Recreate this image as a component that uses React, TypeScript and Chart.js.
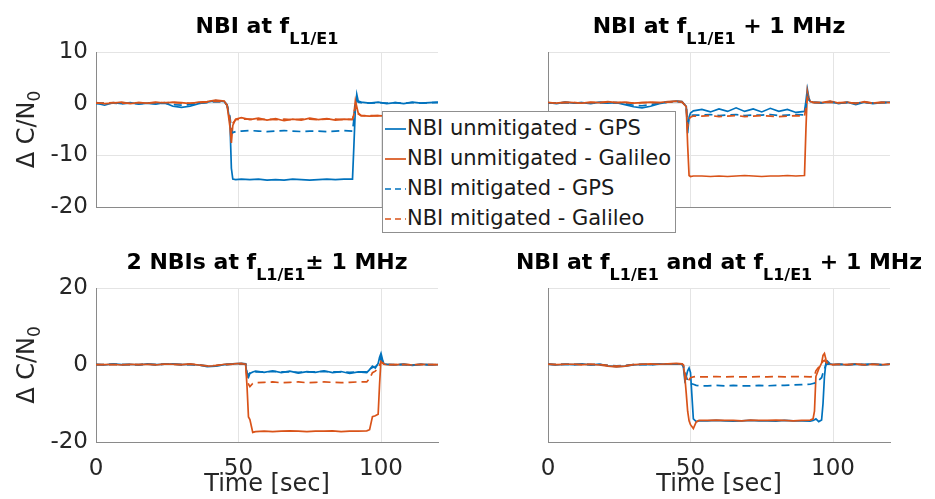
import React, { useEffect, useRef } from "react";
import { Chart, registerables } from "chart.js";
Chart.register(...registerables);

// ---------------- DATA ----------------
const SERIES_LABELS = [
  "NBI unmitigated - GPS",
  "NBI unmitigated - Galileo",
  "NBI mitigated - GPS",
  "NBI mitigated - Galileo",
];
const X_TICKS = [0, 50, 100];
const Y_TICKS_TOP = [-20, -10, 0, 10];
const Y_TICKS_BOTTOM = [-20, 0, 20];
const X_LABEL = "Time [sec]";
const Y_LABEL: [string, boolean][] = [["Δ C/N", false], ["0", true]];

const TITLE_TL: [string, boolean][] = [["NBI at f", false], ["L1/E1", true]];
const TITLE_TR: [string, boolean][] = [["NBI at f", false], ["L1/E1", true], [" + 1 MHz", false]];
const TITLE_BL: [string, boolean][] = [["2 NBIs at f", false], ["L1/E1", true], ["± 1 MHz", false]];
const TITLE_BR: [string, boolean][] = [["NBI at f", false], ["L1/E1", true], [" and at f", false], ["L1/E1", true], [" + 1 MHz", false]];

// Top-left: NBI at f
const tTL = [0,3,6,9,12,15,18,21,24,27,30,33,36,39,42,45, 46,47,47.5,48,49, 51,54,57,60,63,66,69,72,75,78,81,84,87,90, 90.5,91,91.5,92,93, 96,99,102,105,108,111,114,117,120];
const gpsU_TL = [0.1,-0.3,0.2,0.0,0.2,-0.1,0.1,-0.1,0.2,-0.5,-0.7,-0.5,0.0,0.3,0.6,0.4, -0.2,-3.5,-12.5,-14.6,-14.7, -14.6,-14.7,-14.6,-14.8,-14.7,-14.8,-14.6,-14.7,-14.8,-14.7,-14.6,-14.7,-14.6,-14.6, -8.0,-1.0,1.8,0.5,0.3, 0.1,0.3,0.0,0.2,0.0,0.3,0.1,0.2,0.3];
const galU_TL = [0.2,0.0,0.1,0.3,0.0,0.2,0.1,0.3,0.1,0.3,0.2,0.0,0.3,0.4,0.7,0.5, -0.4,-4.5,-7.6,-4.2,-3.0, -2.7,-3.1,-2.8,-3.2,-2.9,-3.3,-3.0,-3.2,-2.8,-3.1,-2.9,-3.2,-3.0,-3.1, -2.0,0.6,-0.6,-1.8,-2.3, -2.4,-2.3,-2.4,-2.2,-2.3,-2.4,-2.3,-2.2,-2.3];
const gpsM_TL = [0.0,0.1,0.1,0.0,0.1,0.0,0.1,0.0,0.1,-0.2,-0.3,-0.2,0.1,0.2,0.4,0.3, -0.3,-2.5,-5.0,-5.6,-5.4, -5.3,-5.2,-5.3,-5.4,-5.3,-5.2,-5.3,-5.4,-5.3,-5.3,-5.4,-5.3,-5.2,-5.3, -3.0,0.0,0.8,0.3,0.2, 0.1,0.2,0.1,0.2,0.1,0.2,0.1,0.2,0.2];
const galM_TL = [0.1,0.1,0.2,0.1,0.1,0.2,0.1,0.2,0.2,0.2,0.1,0.1,0.2,0.3,0.5,0.4, -0.3,-3.0,-5.5,-3.8,-3.1, -3.0,-3.0,-3.1,-3.0,-3.1,-3.0,-3.1,-3.0,-3.0,-3.1,-3.0,-3.0,-3.1,-3.0, -2.0,-0.5,-1.0,-2.0,-2.3, -2.3,-2.3,-2.3,-2.3,-2.3,-2.3,-2.3,-2.3,-2.3];

// Top-right: NBI at f + 1 MHz
const tTR = [0,3,6,9,12,15,18,21,24,27,30,33,36,39,42,45, 47,48.5,49,49.5,50,51, 54,57,60,63,66,69,72,75,78,81,84,87,90, 90.5,91,91.5,92,93, 96,99,102,105,108,111,114,117,120];
const gpsU_TR = [0.2,0.0,0.3,0.1,0.2,0.0,0.3,0.1,0.2,-0.2,-0.6,-0.8,-0.5,0.0,0.3,0.5, 0.4,-0.5,-5.7,-2.6,-1.8,-1.4, -1.1,-1.6,-1.0,-1.5,-0.8,-1.5,-1.0,-1.6,-0.9,-1.5,-1.1,-1.7,-1.5, 0.5,2.8,1.2,0.4,0.3, 0.1,0.4,0.0,0.3,-0.2,0.3,0.0,0.2,0.3];
const galU_TR = [0.2,0.1,0.3,0.2,0.1,0.3,0.2,0.4,0.2,0.3,0.1,0.2,0.3,0.2,0.4,0.5, 0.4,-0.6,-8.0,-13.9,-14.1,-14.0, -14.0,-14.1,-14.0,-14.1,-14.0,-13.9,-14.0,-14.1,-14.0,-14.0,-13.9,-14.0,-13.9, -5.0,2.4,1.0,0.4,0.3, 0.2,0.5,0.1,0.3,0.0,0.4,0.1,0.3,0.2];
const gpsM_TR = [0.1,0.1,0.2,0.1,0.2,0.1,0.2,0.1,0.2,0.0,-0.3,-0.4,-0.2,0.1,0.3,0.4, 0.3,-0.5,-4.0,-2.8,-2.3,-2.2, -2.2,-2.1,-2.3,-2.2,-2.1,-2.3,-2.2,-2.2,-2.1,-2.3,-2.2,-2.1,-2.2, -0.5,1.5,0.8,0.3,0.2, 0.2,0.3,0.1,0.2,0.1,0.2,0.1,0.2,0.2];
const galM_TR = [0.2,0.1,0.2,0.2,0.1,0.2,0.2,0.3,0.2,0.2,0.1,0.2,0.2,0.2,0.3,0.4, 0.3,-0.5,-4.5,-3.0,-2.6,-2.4, -2.4,-2.3,-2.5,-2.4,-2.3,-2.5,-2.4,-2.3,-2.4,-2.5,-2.4,-2.3,-2.4, -0.8,1.2,0.7,0.3,0.2, 0.2,0.3,0.2,0.2,0.1,0.3,0.1,0.2,0.2];

// Bottom-left: 2 NBIs at f ± 1 MHz
const tBL = [0,3,6,9,12,15,18,21,24,27,30,33,36,39,42,45,48,51, 52.5,53,53.5,54,55,56, 59,62,65,68,71,74,77,80,83,86,89,92,95, 96,97,98,99,99.5,100,100.5,101,102, 105,108,111,114,117,120];
const gpsU_BL = [0.2,0.0,0.3,0.1,0.2,0.0,0.3,0.1,0.2,0.3,0.1,0.2,0.0,-0.4,-0.3,0.1,0.3,0.4, 0.3,-2.8,-3.2,-2.2,-1.8,-1.6, -1.9,-1.5,-2.0,-1.6,-2.1,-1.7,-1.9,-1.5,-2.0,-1.7,-2.2,-1.8,-2.0, -1.2,-0.3,-0.8,0.4,2.0,3.0,1.5,0.3,0.2, 0.0,0.2,-0.1,0.2,0.0,0.1];
const galU_BL = [0.1,0.1,0.2,0.0,0.2,0.1,0.2,0.0,0.3,0.2,0.1,0.3,0.0,-0.3,-0.2,0.2,0.3,0.4, 0.2,-5.7,-13.5,-14.2,-17.5,-17.3, -17.2,-17.3,-17.2,-17.1,-17.2,-17.3,-17.2,-17.2,-17.1,-17.3,-17.2,-17.2,-17.1, -16.8,-13.4,-13.2,-12.8,-5.0,1.5,0.8,0.2,0.1, 0.1,0.2,0.0,0.2,0.1,0.1];
const gpsM_BL = [0.1,0.1,0.2,0.1,0.1,0.1,0.2,0.1,0.2,0.2,0.1,0.1,0.0,-0.2,-0.2,0.1,0.2,0.3, 0.2,-2.0,-2.6,-2.1,-1.9,-1.8, -1.8,-1.7,-1.8,-1.8,-1.9,-1.8,-1.8,-1.7,-1.8,-1.8,-1.9,-1.8,-1.8, -1.3,-0.6,-0.5,0.2,1.2,2.0,1.0,0.3,0.2, 0.1,0.1,0.0,0.1,0.1,0.1];
const galM_BL = [0.1,0.1,0.1,0.1,0.1,0.1,0.2,0.1,0.2,0.2,0.1,0.2,0.0,-0.2,-0.1,0.1,0.2,0.3, 0.2,-3.5,-5.0,-5.6,-4.8,-4.6, -4.5,-4.4,-4.6,-4.5,-4.4,-4.6,-4.5,-4.4,-4.5,-4.6,-4.5,-4.4,-4.4, -3.5,-2.0,-1.6,-0.8,0.0,0.8,0.5,0.2,0.1, 0.1,0.1,0.1,0.1,0.1,0.1];

// Bottom-right: NBI at f and at f + 1 MHz
const tBR = [0,3,6,9,12,15,18,21,24,27,30,33,36,39,42,45, 47,47.5,48,48.5,49,49.5,50,51,52,53, 56,59,62,65,68,71,74,77,80,83,86,89,92, 93,93.5,94,95,96,96.5,97,97.5,98,99,100, 102,105,108,111,114,117,120];
const gpsU_BR = [0.2,0.0,0.2,0.1,0.3,0.0,0.2,-0.2,-0.4,-0.3,0.0,0.2,0.1,0.3,0.2,0.3, 0.2,-0.5,-4.0,-3.0,-1.5,-0.8,-2.0,-14.0,-14.7,-14.5, -14.5,-14.4,-14.5,-14.6,-14.5,-14.4,-14.5,-14.5,-14.6,-14.4,-14.5,-14.5,-14.6, -14.4,-14.2,-14.0,-14.7,-14.3,-10.0,-3.0,0.5,1.0,0.3,0.1, 0.2,0.0,0.2,0.1,0.3,0.0,0.2];
const galU_BR = [0.3,0.1,0.2,0.2,0.1,0.2,0.0,-0.3,-0.5,-0.3,0.1,0.2,0.3,0.2,0.3,0.4, 0.3,0.0,-3.0,-7.3,-12.0,-14.5,-15.5,-16.5,-14.8,-14.4, -14.4,-14.3,-14.4,-14.4,-14.5,-14.3,-14.4,-14.4,-14.3,-14.4,-14.5,-14.4,-14.3, -14.0,-12.0,-3.0,-1.0,0.5,2.5,3.0,1.5,0.5,0.2,0.1, 0.2,0.1,0.3,0.0,0.2,0.1,0.2];
const gpsM_BR = [0.2,0.1,0.2,0.1,0.2,0.1,0.1,-0.1,-0.2,-0.1,0.1,0.1,0.1,0.2,0.2,0.3, 0.2,-0.3,-2.0,-3.0,-4.0,-4.5,-4.8,-5.0,-5.3,-5.4, -5.4,-5.3,-5.4,-5.3,-5.4,-5.4,-5.3,-5.4,-5.3,-5.3,-5.2,-5.1,-5.0, -4.8,-4.7,-4.6,-4.0,-3.3,-2.0,-1.0,0.0,0.3,0.2,0.1, 0.2,0.1,0.2,0.1,0.2,0.1,0.2];
const galM_BR = [0.2,0.1,0.2,0.2,0.1,0.2,0.1,-0.1,-0.3,-0.2,0.1,0.2,0.2,0.2,0.3,0.3, 0.3,0.0,-2.0,-3.5,-4.5,-3.8,-3.3,-3.1,-3.0,-3.1, -3.1,-3.0,-3.1,-3.0,-3.1,-3.1,-3.0,-3.1,-3.0,-3.1,-3.0,-3.0,-3.1, -3.0,-2.8,-1.5,-0.5,0.3,1.0,1.2,0.8,0.4,0.2,0.1, 0.2,0.1,0.2,0.1,0.2,0.1,0.2];

// ---------------- STYLE ----------------
const COLORS = ["#0072BD", "#D95319", "#0072BD", "#D95319"];
const DASHED = [false, false, true, true];
const FONT = '"DejaVu Sans", "Liberation Sans", sans-serif';
const GRID = "#e4e4e4";
const AXIS = "#8a8a8a";
const TEXT = "#262626";

type Seg = [string, boolean];

function drawSegs(ctx: CanvasRenderingContext2D, segs: Seg[], cx: number, y: number, main: string, sub: string, subDy: number) {
  let total = 0;
  for (const [s, isSub] of segs) {
    ctx.font = isSub ? sub : main;
    total += ctx.measureText(s).width;
  }
  let x = cx - total / 2;
  ctx.textAlign = "left";
  ctx.textBaseline = "alphabetic";
  for (const [s, isSub] of segs) {
    ctx.font = isSub ? sub : main;
    ctx.fillText(s, x, isSub ? y + subDy : y);
    x += ctx.measureText(s).width;
  }
}

interface PanelCfg {
  left: number; top: number; w: number; h: number;
  padL: number; padR: number; padT: number; yW: number; xH: number;
  t: number[]; ys: number[][];
  yTicks: number[]; yMin: number; yMax: number;
  showYLabels: boolean; showX: boolean; title: Seg[];
}

const PANELS: PanelCfg[] = [
  { left: 0, top: 0, w: 467, h: 245, padL: 36, padR: 29, padT: 52, yW: 60, xH: 38,
    t: tTL, ys: [gpsU_TL, galU_TL, gpsM_TL, galM_TL], yTicks: Y_TICKS_TOP, yMin: -20, yMax: 10,
    showYLabels: true, showX: false, title: TITLE_TL },
  { left: 467, top: 0, w: 468, h: 245, padL: 61, padR: 45, padT: 52, yW: 20, xH: 38,
    t: tTR, ys: [gpsU_TR, galU_TR, gpsM_TR, galM_TR], yTicks: Y_TICKS_TOP, yMin: -20, yMax: 10,
    showYLabels: false, showX: false, title: TITLE_TR },
  { left: 0, top: 245, w: 467, h: 254, padL: 36, padR: 29, padT: 43, yW: 60, xH: 57,
    t: tBL, ys: [gpsU_BL, galU_BL, gpsM_BL, galM_BL], yTicks: Y_TICKS_BOTTOM, yMin: -20, yMax: 20,
    showYLabels: true, showX: true, title: TITLE_BL },
  { left: 467, top: 245, w: 468, h: 254, padL: 61, padR: 45, padT: 43, yW: 20, xH: 57,
    t: tBR, ys: [gpsU_BR, galU_BR, gpsM_BR, galM_BR], yTicks: Y_TICKS_BOTTOM, yMin: -20, yMax: 20,
    showYLabels: false, showX: true, title: TITLE_BR },
];

function Panel({ p }: { p: PanelCfg }) {
  const ref = useRef<HTMLCanvasElement>(null);
  useEffect(() => {
    if (!ref.current) return;
    const decor = {
      id: "decor",
      afterDraw(chart: any) {
        const ctx: CanvasRenderingContext2D = chart.ctx;
        const a = chart.chartArea;
        const cx = (a.left + a.right) / 2;
        ctx.save();
        ctx.fillStyle = "#000";
        drawSegs(ctx, p.title, cx, a.top - 19, `bold 22px ${FONT}`, `bold 16px ${FONT}`, 11);
        ctx.fillStyle = TEXT;
        if (p.showYLabels) {
          ctx.save();
          ctx.translate(34, (a.top + a.bottom) / 2);
          ctx.rotate(-Math.PI / 2);
          drawSegs(ctx, Y_LABEL, 0, 0, `24px ${FONT}`, `17px ${FONT}`, 6);
          ctx.restore();
        }
        if (p.showX) {
          ctx.font = `24px ${FONT}`;
          ctx.textAlign = "center";
          ctx.textBaseline = "alphabetic";
          ctx.fillText(X_LABEL, cx, a.bottom + 49);
        }
        ctx.restore();
      },
    };
    const chart = new Chart(ref.current, {
      type: "line",
      data: {
        datasets: p.ys.map((ys, i) => ({
          label: SERIES_LABELS[i],
          data: p.t.map((x, k) => ({ x, y: ys[k] })),
          borderColor: COLORS[i],
          backgroundColor: COLORS[i],
          borderWidth: 1.7,
          borderDash: DASHED[i] ? [8, 5] : [],
          pointRadius: 0,
          tension: 0,
          fill: false,
          order: 3 - i,
        })),
      },
      options: {
        animation: false,
        responsive: false,
        devicePixelRatio: 1,
        layout: { padding: { left: p.padL, right: p.padR, top: p.padT, bottom: 0 } },
        plugins: { legend: { display: false }, tooltip: { enabled: false }, title: { display: false } },
        scales: {
          x: {
            type: "linear",
            min: 0,
            max: 120,
            afterBuildTicks: (s: any) => { s.ticks = X_TICKS.map((v) => ({ value: v })); },
            afterFit: (s: any) => { s.height = p.xH; },
            grid: { color: GRID, drawTicks: false, lineWidth: 1 },
            border: { color: AXIS, width: 1 },
            ticks: {
              display: p.showX,
              padding: 13,
              color: TEXT,
              font: { family: FONT, size: 23 },
              maxRotation: 0,
              callback: (v: any) => String(v),
            },
          },
          y: {
            type: "linear",
            min: p.yMin,
            max: p.yMax,
            afterBuildTicks: (s: any) => { s.ticks = p.yTicks.map((v) => ({ value: v })); },
            afterFit: (s: any) => { s.width = p.yW; },
            grid: { color: GRID, drawTicks: false, lineWidth: 1 },
            border: { color: AXIS, width: 1 },
            ticks: {
              display: p.showYLabels,
              padding: 8,
              color: TEXT,
              font: { family: FONT, size: 23 },
              callback: (v: any) => String(v),
            },
          },
        },
      },
      plugins: [decor],
    });
    return () => chart.destroy();
  }, [p]);
  return (
    <canvas
      ref={ref}
      width={p.w}
      height={p.h}
      style={{ position: "absolute", left: p.left, top: p.top, width: p.w, height: p.h }}
    />
  );
}

function Legend() {
  return (
    <div
      style={{
        position: "absolute", left: 382, top: 111, width: 294, height: 122,
        boxSizing: "border-box", border: "1px solid #8f8f8f", background: "#fff", zIndex: 5,
      }}
    >
      {SERIES_LABELS.map((lab, i) => (
        <div key={lab} style={{ position: "absolute", left: 0, top: 1 + i * 30, height: 30, width: 290 }}>
          <svg width={24} height={30} style={{ position: "absolute", left: 1, top: 0 }}>
            <line x1={1} y1={16} x2={22} y2={16} stroke={COLORS[i]} strokeWidth={1.7}
              strokeDasharray={DASHED[i] ? "6 4" : undefined} />
          </svg>
          <span style={{
            position: "absolute", left: 24, top: 0, lineHeight: "30px", fontSize: 21,
            fontFamily: FONT, color: "#1a1a1a", whiteSpace: "nowrap",
          }}>{lab}</span>
        </div>
      ))}
    </div>
  );
}

export default function App() {
  return (
    <div style={{ position: "fixed", left: 0, top: 0, width: 935, height: 499, background: "#fff", overflow: "hidden" }}>
      {PANELS.map((p, i) => <Panel key={i} p={p} />)}
      <Legend />
    </div>
  );
}
